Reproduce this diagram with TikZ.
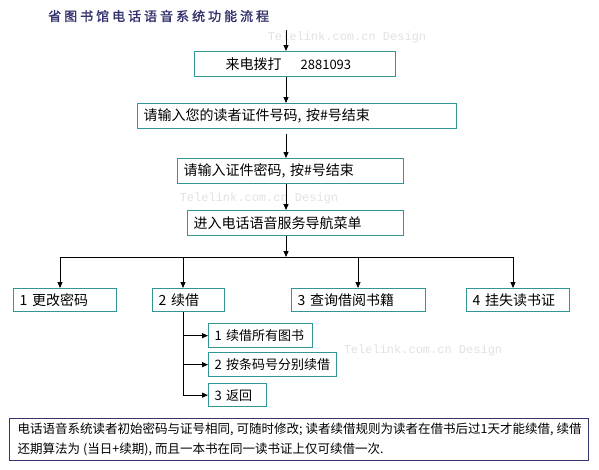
\documentclass[tikz,border=0pt]{standalone}
\usepackage{fontspec}
\setmainfont{Noto Sans CJK SC}
\newfontfamily\titlefont[FakeBold=1.5,LetterSpace=23]{Noto Sans CJK SC}
\newfontfamily\wmfont{Liberation Mono}
\usetikzlibrary{arrows.meta}
\definecolor{teal1}{RGB}{51,150,150}
\definecolor{navy1}{RGB}{51,51,110}
\definecolor{wmgray}{RGB}{226,226,226}
\newcommand{\ps}{\hspace{3pt}}
\begin{document}
\begin{tikzpicture}[x=1pt,y=-1pt,
  box/.style={draw=teal1, line width=1.3pt, inner xsep=6pt, inner ysep=0pt,
    minimum height=25pt, anchor=north west, align=left,
    font=\fontsize{14}{16}\selectfont},
  subbox/.style={box, minimum height=24pt, font=\fontsize{13}{15}\selectfont},
  arr/.style={-{Triangle[length=6pt,width=5pt]}, line width=0.9pt},
  plain/.style={line width=0.9pt},
  wm/.style={text=wmgray, font=\wmfont\fontsize{12}{14}\selectfont, inner sep=0pt}]
\useasboundingbox[fill=white] (0,0) rectangle (599,469);
% watermarks
\node[wm] (w1) at (347,37) {Telelink.com.cn Design};
\node[wm] (w2) at (259,198) {Telelink.com.cn Design};
\node[wm] (w3) at (423,350) {Telelink.com.cn Design};
% title
\node[anchor=west, text=navy1, inner sep=0pt,
  font=\titlefont\fontsize{13}{15}\selectfont] (title) at (48,16) {省图书馆电话语音系统功能流程};
% main column
\node[box, text width=189pt] (n1) at (194,51) {\mbox{\hspace*{25pt}来电拨打\hspace{19pt}{\fontsize{13}{16}\selectfont 2881093}}};
\node[box, text width=307pt] (n2) at (137,103) {\mbox{请输入您的读者证件号码, 按\#号结束}};
\node[box, text width=214pt] (n3) at (177,158) {\mbox{请输入证件密码, 按\#号结束}};
\node[box, text width=204pt] (n4) at (187,210) {\mbox{进入电话语音服务导航菜单}};
% menu row
\node[box, minimum height=23pt, text width=91pt] (m1) at (13,288) {\mbox{1 更改密码}};
\node[box, minimum height=23pt, text width=60pt] (m2) at (152,288) {\mbox{2 续借}};
\node[box, minimum height=23pt, text width=122pt] (m3) at (291,288) {\mbox{3 查询借阅书籍}};
\node[box, minimum height=23pt, text width=91pt] (m4) at (466,288) {\mbox{4 挂失读书证}};
% sub menu
\node[subbox, text width=92pt] (s1) at (208,323) {\mbox{1 续借所有图书}};
\node[subbox, text width=116pt] (s2) at (208,352) {\mbox{2 按条码号分别续借}};
\node[subbox, minimum height=23pt, text width=46pt] (s3) at (208,383) {\mbox{3 返回}};
% note
\node[draw=navy1, line width=1.3pt, anchor=north west, minimum height=42pt,
  text width=563pt, inner xsep=8pt, inner ysep=0pt, align=left,
  font=\fontsize{12.5}{20}\selectfont] (note) at (9,418)
  {\mbox{电话语音系统读者初始密码与证号相同,\ps 可随时修改;\ps 读者续借规则为读者在借书后过1天才能续借,\ps 续借}\\\mbox{还期算法为\ps(当日+续期),\ps 而且一本书在同一读书证上仅可续借一次.}};
% connectors
\coordinate (top) at (286,30);
\coordinate (bar) at (286,257);
\coordinate (x1) at (60,257);
\coordinate (x2) at (183,257);
\coordinate (x3) at (358,257);
\coordinate (x4) at (513,257);
\draw[arr] (top) -- (n1.north -| top);
\draw[arr] (n1.south -| top) -- (n2.north -| top);
\draw[arr, shorten <=5pt] (n2.south -| top) -- (n3.north -| top);
\draw[arr] (n3.south -| top) -- (n4.north -| top);
\draw[arr] (n4.south -| top) -- (bar);
\draw[plain] (x1) -- (x4);
\draw[arr] (x1) -- (x1 |- m1.north);
\draw[arr] (x2) -- (x2 |- m2.north);
\draw[arr] (x3) -- (x3 |- m3.north);
\draw[arr] (x4) -- (x4 |- m4.north);
\draw[arr] (x2 |- m2.south) |- (s3.west);
\draw[arr] (x2 |- s1.west) -- (s1.west);
\draw[arr] (x2 |- s2.west) -- (s2.west);
\end{tikzpicture}
\end{document}
